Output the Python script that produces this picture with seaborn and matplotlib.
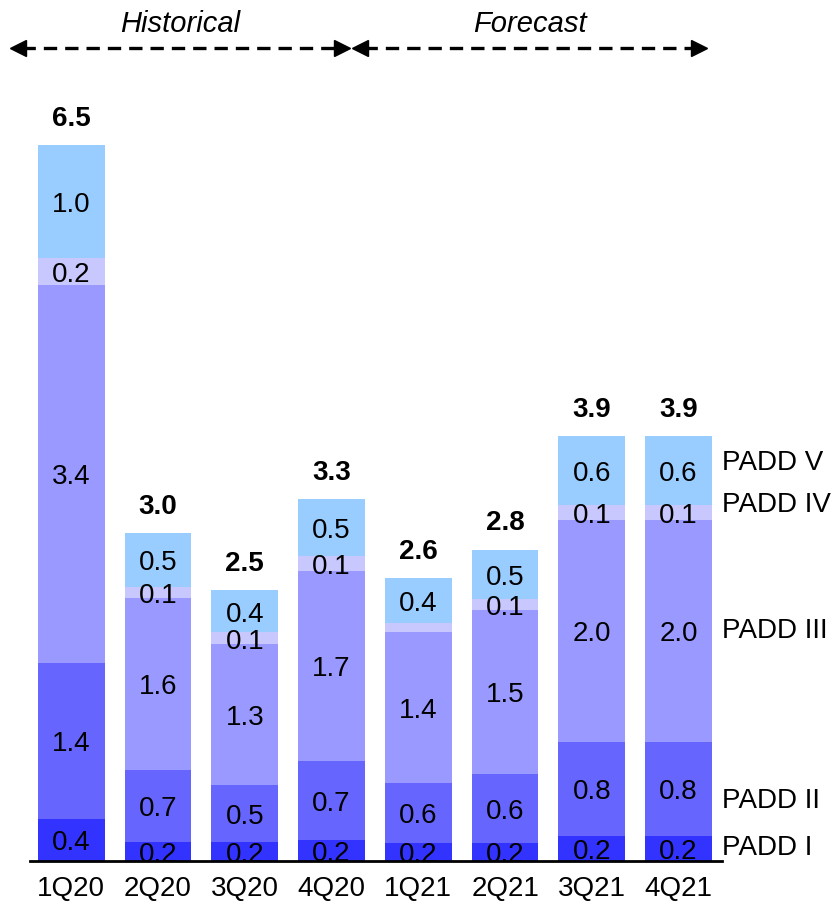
import numpy as np
import pandas as pd
import matplotlib.pyplot as plt
import seaborn as sns

quarters = ["1Q20", "2Q20", "3Q20", "4Q20", "1Q21", "2Q21", "3Q21", "4Q21"]
padd_names = ["PADD I", "PADD II", "PADD III", "PADD IV", "PADD V"]
padd_1 = [0.38, 0.17, 0.17, 0.19, 0.16, 0.16, 0.23, 0.23]
padd_2 = [1.42, 0.66, 0.52, 0.72, 0.55, 0.63, 0.85, 0.85]
padd_3 = [3.44, 1.56, 1.28, 1.73, 1.37, 1.49, 2.02, 2.02]
padd_4 = [0.24, 0.10, 0.11, 0.13, 0.08, 0.10, 0.14, 0.14]
padd_5 = [1.03, 0.49, 0.38, 0.52, 0.41, 0.45, 0.62, 0.62]
colors = ["#3333ff", "#6666ff", "#9999ff", "#c8c8ff", "#99ccff"]

series = [padd_1, padd_2, padd_3, padd_4, padd_5]

sns.set_theme(style="white")
plt.rcParams["font.family"] = ["Liberation Sans", "DejaVu Sans"]
plt.rcParams["text.color"] = "black"
plt.rcParams["xtick.color"] = "black"

FS = 20

fig = plt.figure(figsize=(8.37, 9.1), dpi=100)
ax = fig.add_axes([30 / 837, 1 - 861 / 910, (722 - 30) / 837, (861 - 91) / 910])

bottom = np.zeros(len(quarters))
for name, vals, c in zip(padd_names, series, colors):
    vals = np.array(vals)
    sns.barplot(x=quarters, y=vals, bottom=bottom, color=c, width=0.77,
                edgecolor="none", linewidth=0, ax=ax, saturation=1)
    for i, v in enumerate(vals):
        if v < 0.1:
            continue  # too thin to label
        ax.text(i, bottom[i] + v / 2 - 0.03, f"{v:.1f}", ha="center",
                va="center", fontsize=FS, color="black")
    bottom = bottom + vals

# totals on top
for i, t in enumerate(bottom):
    ax.text(i, t + 0.12, f"{t:.1f}", ha="center", va="bottom",
            fontsize=FS, fontweight="bold", color="black")

# series labels to the right of the last bar
last = np.array([s[-1] for s in series])
mids = np.cumsum(last) - last / 2
label_shift = [0.0, -0.11, 0.0, 0.07, 0.07]
for name, m, d in zip(padd_names, mids, label_shift):
    ax.text(7.5, m + d, name, ha="left", va="center", fontsize=FS,
            color="black", clip_on=False)

ax.set_xlim(-0.475, 7.5)
ax.set_ylim(0, 7)
ax.set_yticks([])
ax.set_xlabel("")
ax.set_ylabel("")
for s in ["top", "right", "left"]:
    ax.spines[s].set_visible(False)
ax.spines["bottom"].set_color("black")
ax.spines["bottom"].set_linewidth(2)
ax.tick_params(axis="x", length=0, pad=11, labelsize=FS, labelcolor="black")

# Historical / Forecast arrows across the top
y_arr = 1 - 48 / 910
for x0, x1, label in [(10 / 837, 350 / 837, "Historical"),
                      (352 / 837, 707 / 837, "Forecast")]:
    fig.add_artist(plt.Line2D([x0 + 0.014, x1 - 0.014], [y_arr, y_arr],
                              transform=fig.transFigure, color="black",
                              lw=2.4, ls=(0, (4, 2.4))))
    fig.add_artist(plt.Line2D([x0 + 0.009], [y_arr], transform=fig.transFigure,
                              marker="<", markersize=12, color="black", lw=0))
    fig.add_artist(plt.Line2D([x1 - 0.009], [y_arr], transform=fig.transFigure,
                              marker=">", markersize=12, color="black", lw=0))
    fig.text((x0 + x1) / 2, 1 - 24 / 910, label, ha="center", va="center",
             fontsize=21, style="italic", color="black")

fig.savefig("out.png", dpi=100)
